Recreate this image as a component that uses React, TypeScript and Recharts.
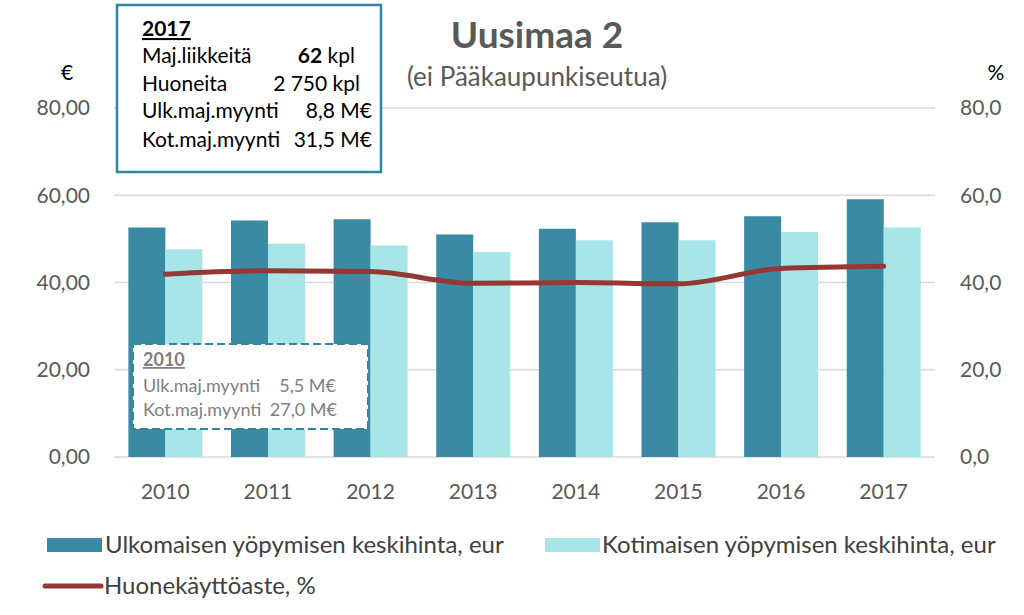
import React from "react";
import {
  ComposedChart,
  Bar,
  Line,
  XAxis,
  YAxis,
  CartesianGrid,
} from "recharts";

const years = ["2010", "2011", "2012", "2013", "2014", "2015", "2016", "2017"];
const foreignPrice = [52.6, 54.2, 54.5, 51.0, 52.3, 53.8, 55.2, 59.1];
const domesticPrice = [47.6, 48.9, 48.5, 47.0, 49.7, 49.7, 51.6, 52.6];
const occupancy = [41.9, 42.7, 42.5, 39.8, 40.0, 39.7, 43.2, 43.7];
const leftTicks = [0, 20, 40, 60, 80];
const rightTicks = [0, 20, 40, 60, 80];

const FONT = "Lato, 'Open Sans', sans-serif";
const DARK = "#3A8AA3";
const LIGHT = "#A8E5E7";
const RED = "#953735";
const GREY = "#595959";

const data = years.map((y, i) => ({
  year: y,
  ulk: foreignPrice[i],
  kot: domesticPrice[i],
  kaytto: occupancy[i],
}));

const fmt2 = (v: number) => v.toFixed(2).replace(".", ",");
const fmt1 = (v: number) => v.toFixed(1).replace(".", ",");

function Overlay() {
  return (
    <svg
      width={1024}
      height={615}
      style={{ position: "absolute", left: 0, top: 0, pointerEvents: "none" }}
      fontFamily={FONT}
    >
      {/* title */}
      <text x={537} y={48} textAnchor="middle" fontSize={37} fontWeight="bold" fill={GREY}>
        Uusimaa 2
      </text>
      <text x={537} y={86} textAnchor="middle" fontSize={26} fill={GREY}>
        (ei Pääkaupunkiseutua)
      </text>
      <text x={67} y={80} textAnchor="middle" fontSize={21} fill="#000">€</text>
      <text x={996} y={80} textAnchor="middle" fontSize={21} fill="#000">%</text>

      {/* 2017 box */}
      <rect x={117} y={5} width={264} height={167} fill="#fff" stroke="#31859C" strokeWidth={2.5} />
      <g fontSize={21} fill="#000">
        <text x={142} y={36} fontWeight="bold" textDecoration="underline">2017</text>
        <text x={142} y={63}>Maj.liikkeitä</text>
        <text x={355} y={63} textAnchor="end">
          <tspan fontWeight="bold">62</tspan> kpl
        </text>
        <text x={142} y={91}>Huoneita</text>
        <text x={360} y={91} textAnchor="end">2 750 kpl</text>
        <text x={142} y={118}>Ulk.maj.myynti</text>
        <text x={372} y={118} textAnchor="end">8,8 M€</text>
        <text x={142} y={147}>Kot.maj.myynti</text>
        <text x={372} y={147} textAnchor="end">31,5 M€</text>
      </g>

      {/* 2010 box */}
      <rect x={133} y={344} width={235} height={85} fill="#fff" stroke="#31859C" strokeWidth={2} strokeDasharray="8 4" />
      <g fontSize={18} fill="#7F7F7F">
        <text x={143} y={366} fontWeight="bold" textDecoration="underline">2010</text>
        <text x={143} y={392}>Ulk.maj.myynti</text>
        <text x={336} y={392} textAnchor="end">5,5 M€</text>
        <text x={143} y={416}>Kot.maj.myynti</text>
        <text x={337} y={416} textAnchor="end">27,0 M€</text>
      </g>

      {/* legend */}
      <g fontSize={24} fill="#404040">
        <rect x={47} y={538} width={55} height={14} fill={DARK} />
        <text x={105} y={553}>Ulkomaisen yöpymisen keskihinta, eur</text>
        <rect x={545} y={538} width={55} height={14} fill={LIGHT} />
        <text x={602} y={553}>Kotimaisen yöpymisen keskihinta, eur</text>
        <line x1={45} y1={586} x2={101} y2={586} stroke={RED} strokeWidth={5} strokeLinecap="round" />
        <text x={104} y={594}>Huonekäyttöaste, %</text>
      </g>
    </svg>
  );
}

export default function App() {
  const tick = { fill: GREY, fontSize: 21, fontFamily: FONT };
  return (
    <div style={{ position: "absolute", left: 0, top: 0, width: 1024, height: 615, background: "#fff" }}>
      <ComposedChart
        width={1024}
        height={615}
        data={data}
        margin={{ top: 108, right: 0, bottom: 118, left: 0 }}
        barCategoryGap="14%"
        barGap={0}
      >
        <CartesianGrid vertical={false} stroke="#D9D9D9" strokeWidth={1.5} yAxisId="left" />
        <XAxis
          dataKey="year"
          height={40}
          tick={tick}
          tickLine={false}
          axisLine={false}
          tickSize={0}
          tickMargin={27}
        />
        <YAxis
          yAxisId="left"
          width={114}
          domain={[0, 80]}
          ticks={leftTicks}
          tickFormatter={fmt2}
          tick={tick}
          tickLine={false}
          axisLine={false}
          tickSize={0}
          tickMargin={24}
        />
        <YAxis
          yAxisId="right"
          orientation="right"
          width={89}
          domain={[0, 80]}
          ticks={rightTicks}
          tickFormatter={fmt1}
          tick={{ ...tick, textAnchor: "start" }}
          tickLine={false}
          axisLine={false}
          tickSize={0}
          tickMargin={25}
        />
        <Bar yAxisId="left" dataKey="ulk" fill={DARK} isAnimationActive={false} />
        <Bar yAxisId="left" dataKey="kot" fill={LIGHT} isAnimationActive={false} />
        <Line
          yAxisId="right"
          dataKey="kaytto"
          type="monotone"
          stroke={RED}
          strokeWidth={5}
          strokeLinecap="round"
          dot={false}
          activeDot={false}
          isAnimationActive={false}
        />
      </ComposedChart>
      <Overlay />
    </div>
  );
}
